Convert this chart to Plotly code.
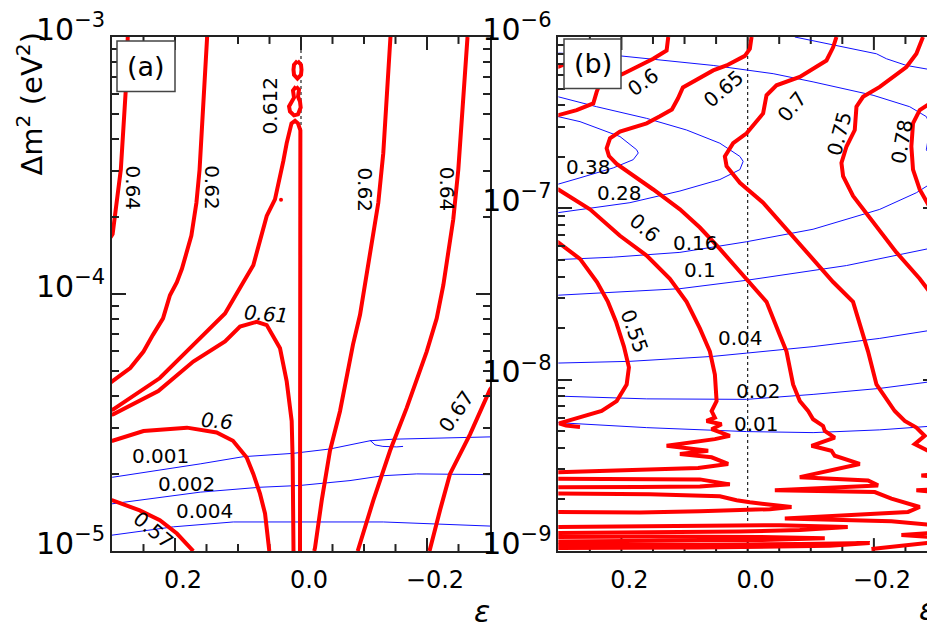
import math
import plotly.graph_objects as go

# contour paths as (epsilon, log10 dm^2)

# ---- panel (a): dm^2 from 1e-5 to 1e-3 ----
a_red_064l = [(0.275, -3.0), (0.278, -3.201), (0.286, -3.516), (0.2925, -3.645), (0.299, -3.767), (0.305, -3.79)]
a_red_062l = [(0.149, -3.0), (0.154, -3.194), (0.158, -3.387), (0.161, -3.516), (0.166, -3.645), (0.174, -3.773),
              (0.189, -3.902), (0.197, -3.954), (0.208, -4.005), (0.219, -4.095), (0.235, -4.159), (0.250, -4.224),
              (0.271, -4.288), (0.298, -4.340), (0.305, -4.35)]
a_red_0612 = [(0.0016, -5.0), (0.0016, -4.417), (0.0016, -3.838), (0.001, -3.363), (0.0048, -3.336), (0.0095, -3.326),
              (0.0151, -3.336), (0.0183, -3.363), (0.0227, -3.413), (0.0281, -3.483), (0.036, -3.568), (0.0413, -3.632),
              (0.0544, -3.696), (0.0619, -3.761), (0.0757, -3.888), (0.0916, -3.954), (0.1206, -4.076), (0.171, -4.198),
              (0.224, -4.327), (0.298, -4.449), (0.305, -4.452)]
a_red_0612_loop1 = [(0.0056, -3.093), (0.0, -3.108), (-0.0008, -3.127), (0.0, -3.147), (0.0056, -3.162), (0.0111, -3.147),
                    (0.0119, -3.127), (0.0111, -3.108), (0.0056, -3.093)]
a_red_0612_loop2 = [(0.0079, -3.193), (0.0032, -3.205), (0.0048, -3.232), (0.0016, -3.251), (0.0005, -3.274), (0.0048, -3.301),
                    (0.0111, -3.305), (0.0175, -3.290), (0.019, -3.270), (0.0143, -3.247), (0.0111, -3.236), (0.0127, -3.208),
                    (0.0079, -3.193)]
a_red_061 = [(0.305, -4.470), (0.298, -4.468), (0.2265, -4.378), (0.171, -4.263), (0.1206, -4.185), (0.0968, -4.127),
             (0.0703, -4.108), (0.0544, -4.121), (0.0333, -4.211), (0.0227, -4.340), (0.0148, -4.494), (0.0132, -4.649),
             (0.0119, -5.0)]
a_red_060 = [(0.305, -4.573), (0.299, -4.571), (0.250, -4.533), (0.181, -4.520), (0.134, -4.539), (0.108, -4.571),
             (0.0862, -4.636), (0.0757, -4.700), (0.0651, -4.777), (0.0571, -4.854), (0.0503, -5.0)]
a_red_057 = [(0.305, -4.80), (0.299, -4.803), (0.256, -4.842), (0.224, -4.880), (0.197, -4.932), (0.1735, -4.990), (0.171, -5.0)]
a_red_062r = [(-0.142, -3.0), (-0.136, -3.259), (-0.1306, -3.452), (-0.1227, -3.645), (-0.1095, -3.838), (-0.0937, -4.081),
              (-0.0825, -4.197), (-0.0619, -4.456), (-0.046, -4.610), (-0.0329, -4.803), (-0.0222, -4.988), (-0.021, -5.0)]
a_red_064r = [(-0.2643, -3.0), (-0.2576, -3.259), (-0.2497, -3.516), (-0.2417, -3.709), (-0.2259, -3.966), (-0.2154, -4.095),
              (-0.1995, -4.224), (-0.1678, -4.443), (-0.1413, -4.610), (-0.1148, -4.803), (-0.091, -4.988), (-0.090, -5.0)]
a_red_067 = [(-0.31, -4.34), (-0.300, -4.372), (-0.2683, -4.546), (-0.2365, -4.700), (-0.2206, -4.842), (-0.2048, -4.988), (-0.204, -5.0)]
a_red_dot = [(0.0317, -3.633)]

a_blue_0001 = [(0.305, -4.715), (0.299, -4.713), (0.160, -4.661), (0.0916, -4.633), (0.0122, -4.620), (-0.046, -4.603),
               (-0.1095, -4.571), (-0.1465, -4.565), (-0.300, -4.556), (-0.305, -4.556)]
a_blue_0001_wiggle = [(-0.1095, -4.569), (-0.1175, -4.587), (-0.130, -4.593), (-0.1413, -4.595), (-0.152, -4.595), (-0.162, -4.593)]
a_blue_0002 = [(0.305, -4.818), (0.299, -4.816), (0.160, -4.771), (0.0651, -4.752), (0.0016, -4.745), (-0.0778, -4.726),
               (-0.1306, -4.707), (-0.1837, -4.700), (-0.300, -4.703), (-0.305, -4.703)]
a_blue_0004 = [(0.305, -4.94), (0.299, -4.938), (0.2027, -4.906), (0.1075, -4.887), (0.0016, -4.887), (-0.1306, -4.887),
               (-0.300, -4.903), (-0.305, -4.904)]

# label text, epsilon, log10 dm^2, angle
a_labels = [("0.64", 0.266, -3.587, 90), ("0.62", 0.1417, -3.587, 90), ("0.612", 0.0492, -3.270, -90),
            ("0.62", -0.1016, -3.593, 90), ("0.64", -0.2313, -3.593, 90), ("0.61", 0.0544, -4.076, 5),
            ("0.6", 0.134, -4.494, 5), ("0.57", 0.2344, -4.919, 40), ("0.67", -0.2471, -4.456, -55),
            ("0.001", 0.2238, -4.629, 0), ("0.002", 0.1814, -4.739, 0), ("0.004", 0.1524, -4.844, 0)]
a_italic = {"0.61", "0.6"}

# ---- panel (b): dm^2 from 1e-9 to 1e-6 ----
b_red_06u = [(0.1258, -6.0), (0.1284, -6.079), (0.1496, -6.127), (0.1971, -6.214), (0.234, -6.272), (0.2392, -6.320),
             (0.2446, -6.388), (0.2709, -6.427), (0.300, -6.456), (0.305, -6.46)]
b_red_06box = [(0.305, -6.176), (0.300, -6.174), (0.2878, -6.156), (0.2735, -6.139)]
b_red_065 = [(-0.0062, -6.0), (-0.0035, -6.069), (0.0044, -6.110), (0.0334, -6.166), (0.0546, -6.195), (0.0809, -6.253),
             (0.1026, -6.295), (0.1105, -6.359), (0.12, -6.423), (0.139, -6.463), (0.16, -6.504), (0.2023, -6.552),
             (0.2181, -6.591), (0.2234, -6.649), (0.2197, -6.695), (0.2075, -6.741), (0.1865, -6.793), (0.1496, -6.890),
             (0.1073, -7.006), (0.0757, -7.112), (0.044, -7.237), (0.0123, -7.372), (-0.0299, -7.546), (-0.0509, -7.739),
             (-0.0616, -7.836), (-0.072, -8.028), (-0.0826, -8.125), (-0.0958, -8.183), (-0.1037, -8.231), (-0.1195, -8.270),
             (-0.1222, -8.299), (-0.138, -8.338), (-0.1012, -8.386), (-0.1328, -8.415), (-0.138, -8.444), (-0.1776, -8.492),
             (-0.0826, -8.569), (-0.1908, -8.588), (-0.2066, -8.617), (-0.0431, -8.646), (-0.2014, -8.656), (-0.2278, -8.694),
             (-0.2726, -8.743), (-0.2541, -8.772), (-0.0589, -8.810), (-0.2278, -8.826), (-0.2963, -8.849), (-0.312, -8.855)]
b_red_07 = [(-0.1407, -6.0), (-0.1354, -6.060), (-0.1249, -6.137), (-0.0826, -6.233), (-0.0457, -6.282), (-0.0299, -6.340),
            (-0.0245, -6.446), (0.0017, -6.562), (0.023, -6.620), (0.0361, -6.697), (0.0334, -6.754), (0.0123, -6.851),
            (-0.0245, -6.967), (-0.0616, -7.122), (-0.0985, -7.276), (-0.1354, -7.430), (-0.167, -7.546), (-0.1828, -7.739),
            (-0.1908, -7.836), (-0.2041, -8.028), (-0.233, -8.183), (-0.2489, -8.241), (-0.2673, -8.280), (-0.2805, -8.328),
            (-0.2647, -8.376), (-0.2857, -8.415), (-0.3122, -8.484)]
b_red_075 = [(-0.2778, -6.0), (-0.2673, -6.098), (-0.2515, -6.175), (-0.2093, -6.291), (-0.1828, -6.349), (-0.1724, -6.407),
             (-0.1697, -6.543), (-0.1566, -6.639), (-0.1486, -6.735), (-0.1512, -6.812), (-0.167, -6.928), (-0.1987, -7.083),
             (-0.2357, -7.257), (-0.2726, -7.411), (-0.2963, -7.527), (-0.3122, -7.604)]
b_red_078 = [(-0.312, -6.330), (-0.2963, -6.369), (-0.2726, -6.427), (-0.262, -6.504), (-0.2594, -6.639), (-0.262, -6.774),
             (-0.2726, -6.890), (-0.2963, -7.044), (-0.3122, -7.112)]
b_red_stub1 = [(-0.312, -8.548), (-0.2752, -8.559), (-0.312, -8.571)]
b_red_stub2 = [(-0.312, -8.635), (-0.2673, -8.646), (-0.312, -8.658)]
b_red_stub3 = [(-0.312, -8.889), (-0.2436, -8.907), (-0.312, -8.924)]
b_red_stub4 = [(-0.1961, -8.988), (-0.2409, -8.970), (-0.2963, -8.946), (-0.312, -8.942)]
b_red_055 = [(0.305, -7.19), (0.300, -7.199), (0.2656, -7.295), (0.2387, -7.430), (0.2213, -7.546), (0.2086, -7.662),
             (0.196, -7.807), (0.1881, -7.928), (0.1917, -8.028), (0.2075, -8.125), (0.2313, -8.183), (0.2656, -8.222),
             (0.2878, -8.244), (0.2989, -8.255), (0.2878, -8.267), (0.2656, -8.276)]
b_red_06l = [(0.305, -6.887), (0.300, -6.890), (0.2498, -7.006), (0.2023, -7.160), (0.16, -7.276), (0.1232, -7.411),
             (0.0967, -7.546), (0.0757, -7.701), (0.0598, -7.836), (0.0519, -7.970), (0.0492, -8.125), (0.0571, -8.183),
             (0.0519, -8.222), (0.0651, -8.241), (0.0413, -8.260), (0.0571, -8.289), (0.0282, -8.328), (0.0519, -8.347),
             (0.1284, -8.386), (0.0625, -8.415), (0.1073, -8.434), (0.0571, -8.453), (0.0309, -8.492), (0.0784, -8.515),
             (0.300, -8.540), (0.305, -8.541)]
b_red_h2 = [(0.305, -8.578), (0.1707, -8.577), (0.0757, -8.582), (0.0282, -8.611), (0.0757, -8.623), (0.1707, -8.626), (0.305, -8.628)]
b_red_h3 = [(0.305, -8.664), (0.1548, -8.669), (0.044, -8.681), (0.0176, -8.704), (-0.0035, -8.716), (-0.0351, -8.727),
            (-0.0695, -8.743), (-0.0351, -8.756), (0.0044, -8.762), (0.0757, -8.768), (0.1707, -8.776), (0.305, -8.772)]
b_red_h4 = [(0.305, -8.860), (0.1548, -8.855), (0.044, -8.852), (-0.0509, -8.849), (-0.1586, -8.860), (-0.0826, -8.878),
            (0.0123, -8.886), (0.1548, -8.889), (0.305, -8.895)]
b_red_h5 = [(0.305, -8.918), (0.1548, -8.915), (-0.0193, -8.918), (-0.1222, -8.926), (-0.0193, -8.936), (0.1548, -8.942), (0.305, -8.944)]
b_red_h6 = [(0.305, -8.965), (0.0757, -8.965), (-0.0826, -8.959), (-0.1934, -8.953), (-0.1301, -8.970), (0.0757, -8.979), (0.305, -8.982)]

b_blue_038 = [(0.305, -6.463), (0.300, -6.465), (0.2656, -6.494), (0.2023, -6.581), (0.1759, -6.658), (0.1733, -6.677),
              (0.1813, -6.716), (0.2129, -6.764), (0.2656, -6.822), (0.300, -6.861), (0.305, -6.864)]
b_blue_028 = [(0.305, -6.346), (0.300, -6.349), (0.2392, -6.407), (0.16, -6.475), (0.0967, -6.543), (0.044, -6.620),
              (0.0123, -6.697), (0.0071, -6.726), (0.0123, -6.774), (0.044, -6.832), (0.1073, -6.899), (0.1865, -6.967),
              (0.300, -7.025), (0.305, -7.027)]
b_blue_016 = [(0.305, -6.093), (0.300, -6.094), (0.2023, -6.110), (0.1284, -6.137), (0.0546, -6.166), (-0.0404, -6.214),
              (-0.1037, -6.262), (-0.1987, -6.340), (-0.2568, -6.407), (-0.2832, -6.465), (-0.2911, -6.533), (-0.2857, -6.600),
              (-0.2832, -6.658), (-0.2963, -6.735), (-0.312, -6.793)]
b_blue_016_low = [(-0.312, -6.805), (-0.2963, -6.840), (-0.2673, -6.909), (-0.2093, -7.006), (-0.1037, -7.122), (0.0017, -7.195),
                  (0.1073, -7.257), (0.2129, -7.285), (0.300, -7.299), (0.305, -7.300)]
b_blue_01 = [(0.305, -7.508), (0.300, -7.507), (0.1073, -7.469), (0.0017, -7.420), (-0.1566, -7.334), (-0.2963, -7.228), (-0.312, -7.216)]
b_blue_01_top = [(-0.0747, -6.0), (-0.1566, -6.060), (-0.2041, -6.098), (-0.2199, -6.127), (-0.2515, -6.166), (-0.2963, -6.195), (-0.312, -6.203)]
b_blue_004 = [(0.305, -7.903), (0.300, -7.903), (0.1865, -7.893), (0.0546, -7.864), (0.0017, -7.845), (-0.1037, -7.807),
              (-0.2093, -7.759), (-0.2963, -7.710), (-0.312, -7.699)]
b_blue_002 = [(0.305, -8.096), (0.300, -8.096), (0.16, -8.112), (0.0017, -8.115), (-0.1037, -8.086), (-0.2093, -8.051),
              (-0.2963, -8.009), (-0.312, -8.001)]
b_blue_001 = [(0.305, -8.251), (0.300, -8.251), (0.16, -8.280), (0.0017, -8.303), (-0.1037, -8.309), (-0.2093, -8.293),
              (-0.2963, -8.270), (-0.312, -8.267)]

b_labels = [("0.6", 0.1654, -6.262, -35), ("0.65", 0.0388, -6.301, -40), ("0.7", -0.0695, -6.407, -50),
            ("0.75", -0.146, -6.562, -75), ("0.78", -0.2436, -6.610, -80), ("0.6", 0.1627, -7.112, 40),
            ("0.55", 0.1786, -7.720, 70), ("0.38", 0.252, -6.758, 0), ("0.28", 0.2023, -6.913, 0),
            ("0.16", 0.0820, -7.204, 0), ("0.1", 0.0757, -7.362, 0), ("0.04", 0.0118, -7.759, 0),
            ("0.02", -0.0166, -8.069, 0), ("0.01", -0.0141, -8.260, 0)]

# tick positions
eps_major = [0.2, 0.0, -0.2]
eps_minor = [0.25, 0.15, 0.1, 0.05, -0.05, -0.1, -0.15, -0.25]
decades_a = [-5, -4]
decades_b = [-9, -8, -7]

a_red = [a_red_064l, a_red_062l, a_red_0612, a_red_0612_loop1, a_red_0612_loop2, a_red_061, a_red_060,
         a_red_057, a_red_062r, a_red_064r, a_red_067]
a_blue = [a_blue_0001, a_blue_0001_wiggle, a_blue_0002, a_blue_0004]
b_red = [b_red_06u, b_red_06box, b_red_065, b_red_07, b_red_075, b_red_078, b_red_stub1, b_red_stub2, b_red_stub3,
         b_red_stub4, b_red_055, b_red_06l, b_red_h2, b_red_h3, b_red_h4, b_red_h5, b_red_h6]
b_blue = [b_blue_038, b_blue_028, b_blue_016, b_blue_016_low, b_blue_01, b_blue_01_top, b_blue_004, b_blue_002, b_blue_001]

FONT = "DejaVu Sans"
RED = "#ff0000"
BLUE = "#1010ff"
AX = "#222"
OFF = 8                      # the page body puts the figure 8 px in from the corner
W, H = 935, 631
MT, MB = 33 - OFF, H - (551 - OFF)
PH = H - MT - MB
PW = 378                     # panel width in px


def xy(pts):
    return [p[0] for p in pts], [10 ** p[1] for p in pts]


def px_x(px):
    return (px - OFF) / W


def px_y(py):
    return (H - MB - (py - OFF)) / PH


fig = go.Figure()


def add_paths(paths, xa, ya, color, width):
    for pts in paths:
        x, y = xy(pts)
        fig.add_trace(go.Scatter(x=x, y=y, xaxis=xa, yaxis=ya, mode="lines",
                                 line=dict(color=color, width=width), hoverinfo="skip"))


add_paths(a_blue, "x", "y", BLUE, 1)
add_paths(a_red, "x", "y", RED, 4)
add_paths(b_blue, "x2", "y2", BLUE, 1)
add_paths(b_red, "x2", "y2", RED, 4)

dx, dy = xy(a_red_dot)
fig.add_trace(go.Scatter(x=dx, y=dy, mode="markers", marker=dict(color=RED, size=4), hoverinfo="skip"))
# invisible carriers so the overlay axes (label rows, right tick column) get drawn
for xa, ya in (("x3", "y"), ("x4", "y2"), ("x2", "y3")):
    fig.add_trace(go.Scatter(x=[0], y=[1e-7 if ya != "y" else 1e-4], xaxis=xa, yaxis=ya, mode="markers",
                             marker=dict(opacity=0), hoverinfo="skip"))

tfont = dict(family=FONT, size=24, color="black")
minor_y = dict(ticks="inside", ticklen=7, dtick="D1", tickcolor=AX, tickwidth=2, showgrid=False)

x_frame = dict(showline=True, linecolor=AX, linewidth=2, mirror=True, ticks="", showgrid=False,
               zeroline=False, showticklabels=False, range=[0.3, -0.3])
# labels only, set a little lower and to the right of the ticks
x_labels = dict(showline=False, ticks="", showgrid=False, zeroline=False, tickmode="array", tickvals=eps_major,
                tickformat=".1f", tickfont=tfont, ticklabelstandoff=12, ticklabelshift=-8, range=[0.3, -0.3])
y_style = dict(showline=True, linecolor=AX, linewidth=2, ticks="inside", ticklen=14, tickcolor=AX, tickwidth=2,
               showgrid=False, zeroline=False, type="log", dtick=1, exponentformat="power", tickfont=tfont,
               ticklabelshift=-8, ticklabeloverflow="allow", minor=minor_y)

dom_a = [px_x(112), px_x(490)]
dom_b = [px_x(558.3), px_x(937)]
fig.update_layout(
    width=W, height=H, margin=dict(l=0, r=0, t=MT, b=MB),
    paper_bgcolor="white", plot_bgcolor="white", showlegend=False,
    xaxis=dict(x_frame, domain=dom_a, anchor="y"),
    xaxis3=dict(x_labels, domain=dom_a, anchor="y", overlaying="x"),
    yaxis=dict(y_style, domain=[0, 1], range=[-5, -3], anchor="x", mirror="ticks"),
    xaxis2=dict(x_frame, domain=dom_b, anchor="y2"),
    xaxis4=dict(x_labels, domain=dom_b, anchor="y2", overlaying="x2"),
    yaxis2=dict(y_style, domain=[0, 1], range=[-9, -6], anchor="x2", mirror=False),
    yaxis3=dict(y_style, range=[-9, -6], overlaying="y2", side="right", anchor="x2",
                showline=False, showticklabels=False),
)

tick_line = dict(color=AX, width=2)

# epsilon ticks, inward from the bottom and top edges (same layer as the guide lines)
for xr, yr in (("x", "y domain"), ("x2", "y2 domain")):
    for vals, ln in ((eps_major, 13), (eps_minor, 7)):
        f = ln / PH
        for v in vals:
            fig.add_shape(type="line", xref=xr, yref=yr, x0=v, x1=v, y0=0, y1=f, line=tick_line, layer="below")
            fig.add_shape(type="line", xref=xr, yref=yr, x0=v, x1=v, y0=1, y1=1 - f, line=tick_line, layer="below")

# minor dm^2 ticks (2..9 in each decade), inward from the left and right edges
f = 7 / PW
for xr, yr, decades in (("x domain", "y", decades_a), ("x2 domain", "y2", decades_b)):
    for k in decades:
        for m in range(2, 10):
            lv = k + math.log10(m)
            fig.add_shape(type="line", xref=xr, yref=yr, x0=0, x1=f, y0=lv, y1=lv, line=tick_line, layer="below")
            fig.add_shape(type="line", xref=xr, yref=yr, x0=1, x1=1 - f, y0=lv, y1=lv, line=tick_line, layer="below")

# epsilon = 0 guide lines
for xr, yr in (("x", "y domain"), ("x2", "y2 domain")):
    fig.add_shape(type="line", xref=xr, yref=yr, x0=0, x1=0, y0=0, y1=1,
                  line=dict(color="#222", width=1.2, dash="dot"), layer="below")


def add_labels(labels, xr, yr, italic=()):
    for txt, e, lg, ang in labels:
        t = f"<i>{txt}</i>" if txt in italic else txt
        fig.add_annotation(x=e, y=lg, xref=xr, yref=yr, text=t, showarrow=False, textangle=ang,
                           xanchor="center", yanchor="middle",
                           font=dict(family=FONT, size=20, color="black"))


add_labels(a_labels, "x", "y", a_italic)
add_labels(b_labels, "x2", "y2")


def note(xp, yp, text, size, angle=0):
    fig.add_annotation(xref="paper", yref="paper", x=px_x(xp), y=px_y(yp), text=text, textangle=angle,
                       xanchor="center", yanchor="middle", showarrow=False,
                       font=dict(family=FONT, size=size, color="black"))


# panel tags
for txt, x0, x1, y0, y1 in (("(a)", 117, 175, 37, 88), ("(b)", 564, 621, 35, 85)):
    fig.add_shape(type="rect", xref="paper", yref="paper", x0=px_x(x0), x1=px_x(x1), y0=px_y(y1), y1=px_y(y0),
                  fillcolor="white", line=dict(color="#444", width=1.5), layer="above")
    note((x0 + x1) / 2, (y0 + y1) / 2, txt, 27)

# axis titles
note(30, 101, "Δm<sup>2</sup> (eV<sup>2</sup>)", 29, -90)
note(482, 612, "<i>ε</i>", 30)
note(927, 610, "<i>ε</i>", 30)

fig.write_html("out.html")
